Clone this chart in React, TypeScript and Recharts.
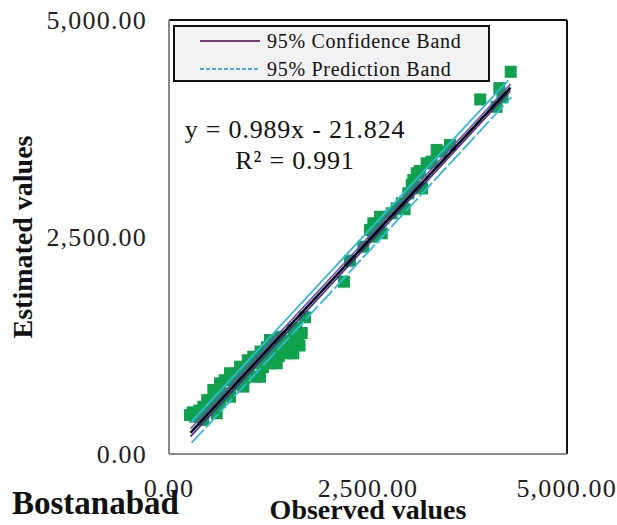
import React from "react";
import {
  ScatterChart,
  Scatter,
  XAxis,
  YAxis,
  ReferenceLine,
} from "recharts";

// observed vs estimated
const observed = [
  264, 330, 300, 431, 431, 520, 557, 599, 599, 640, 641, 700, 766, 766, 820,
  850, 892, 934, 950, 1000, 1059, 1059, 1101, 1143, 1120, 1180, 1200, 1269,
  1269, 1269, 1320, 1353, 1380, 1420, 1478, 1500, 1562, 1562, 1604, 1620,
  1667, 1640, 990, 700, 480, 380, 1230, 1300, 1400, 1450, 520, 900, 1150,
  1330, 1520, 1600, 1709, 2198, 2274, 2441, 2567, 2672, 2525, 2567, 2630,
  2651, 2797, 2860, 2923, 2960, 3006, 3050, 3070, 3112, 3150, 3180, 3237,
  3300, 3363, 3420, 3530, 3910, 4115, 4150, 4190, 4293,
];
const estimated = [
  449, 430, 480, 545, 392, 520, 737, 699, 469, 600, 814, 700, 660, 930, 800,
  930, 1006, 776, 880, 960, 1045, 1121, 891, 891, 1050, 1000, 1150, 1275,
  1313, 1045, 1200, 1045, 1130, 1250, 1160, 1300, 1429, 1160, 1313, 1380,
  1394, 1250, 1080, 850, 620, 500, 1230, 1100, 1350, 1230, 620, 850, 1180,
  1300, 1230, 1450, 1575, 1985, 2227, 2388, 2503, 2543, 2581, 2658, 2600,
  2734, 2773, 2830, 2888, 2820, 3003, 3100, 3157, 3234, 3260, 3060, 3349,
  3368, 3502, 3483, 3560, 4085, 4000, 4215, 4110, 4404,
];

// line ends [x, y]
const fitLine = [
  [270, 245],
  [4290, 4220],
];
const confUpper = [
  [270, 290],
  [4290, 4262],
];
const confLower = [
  [270, 200],
  [4290, 4185],
];
const predUpper = [
  [280, 370],
  [4260, 4305],
];
const predLower = [
  [285, 130],
  [4300, 4110],
];

const axisTicks = [0, 2500, 5000];
const legendItems = ["95% Confidence Band", "95% Prediction Band"];

const points = observed.map((x, i) => ({ x, y: estimated[i] }));
const toPts = (arr: number[][]) => arr.map(([x, y]) => ({ x, y }));

const serif = "'Liberation Serif', 'Times New Roman', serif";
const fmt = (v: number) =>
  v.toLocaleString("en-US", { minimumFractionDigits: 2, maximumFractionDigits: 2 });

const Square = (props: any) => {
  const { cx, cy } = props;
  return <rect x={cx - 6} y={cy - 6} width={12} height={12} fill="#10a14d" />;
};
const NoDot = () => <g />;

const legendStyles = [
  { color: "#7a3b74", dash: "" },
  { color: "#4aa8dc", dash: "4 2" },
];

export default function App() {
  return (
    <div style={{ position: "absolute", left: 0, top: 0, width: 617, height: 525, background: "#fff" }}>
      <ScatterChart width={617} height={525} margin={{ top: 20, right: 50, bottom: 0, left: 0 }}>
        <XAxis
          type="number"
          dataKey="x"
          domain={[0, 5000]}
          ticks={axisTicks}
          tickFormatter={fmt}
          height={71}
          tickSize={0}
          tickMargin={25}
          axisLine={{ stroke: "#8a8a8a", strokeWidth: 2 }}
          tick={{ fill: "#222", fontSize: 26, fontFamily: serif, letterSpacing: 1.2 }}
          label={{
            value: "Observed values",
            position: "insideBottom",
            offset: 6,
            style: { fill: "#111", fontSize: 28, fontWeight: 700, fontFamily: serif },
          }}
        />
        <YAxis
          type="number"
          dataKey="y"
          domain={[0, 5000]}
          ticks={axisTicks}
          tickFormatter={fmt}
          width={169}
          tickSize={0}
          tickMargin={22}
          axisLine={{ stroke: "#8a8a8a", strokeWidth: 2 }}
          tick={{ fill: "#222", fontSize: 26, fontFamily: serif, letterSpacing: 1.2 }}
          label={{
            value: "Estimated values",
            angle: -90,
            position: "insideLeft",
            offset: 22,
            style: { fill: "#111", fontSize: 28, fontWeight: 700, fontFamily: serif, textAnchor: "middle" },
          }}
        />
        <ReferenceLine y={5000} stroke="#111" strokeWidth={2} />
        <ReferenceLine x={5000} stroke="#111" strokeWidth={2} />
        <Scatter data={points} shape={<Square />} isAnimationActive={false} />
        <Scatter
          data={toPts(predUpper)}
          line={{ stroke: "#33b7e3", strokeWidth: 1.8 }}
          shape={<NoDot />}
          isAnimationActive={false}
        />
        <Scatter
          data={toPts(predLower)}
          line={{ stroke: "#33b7e3", strokeWidth: 1.8, strokeDasharray: "18 3" }}
          shape={<NoDot />}
          isAnimationActive={false}
        />
        <Scatter
          data={toPts(confUpper)}
          line={{ stroke: "#6a4cc8", strokeWidth: 1.6 }}
          shape={<NoDot />}
          isAnimationActive={false}
        />
        <Scatter
          data={toPts(confLower)}
          line={{ stroke: "#4a2a9a", strokeWidth: 1.6 }}
          shape={<NoDot />}
          isAnimationActive={false}
        />
        <Scatter
          data={toPts(fitLine)}
          line={{ stroke: "#000", strokeWidth: 2.5 }}
          shape={<NoDot />}
          isAnimationActive={false}
        />
      </ScatterChart>
      <div
        style={{
          position: "absolute",
          left: 173,
          top: 25,
          width: 313,
          height: 53,
          border: "2px solid #111",
          background: "#f2f2f2",
          fontFamily: serif,
          fontSize: 20,
          letterSpacing: 0.7,
          color: "#111",
        }}
      >
        {legendItems.map((label, i) => (
          <div key={label} style={{ height: 28, display: "flex", alignItems: "center" }}>
            <svg width={92} height={6} style={{ flex: "none" }}>
              <line
                x1={25}
                x2={85}
                y1={3}
                y2={3}
                stroke={legendStyles[i].color}
                strokeWidth={2}
                strokeDasharray={legendStyles[i].dash}
              />
            </svg>
            <span>{label}</span>
          </div>
        ))}
      </div>
      <div
        style={{
          position: "absolute",
          left: 175,
          top: 114,
          width: 240,
          textAlign: "center",
          fontFamily: serif,
          fontSize: 26,
          lineHeight: "31px",
          letterSpacing: 0.8,
          color: "#111",
        }}
      >
        <div>y = 0.989x - 21.824</div>
        <div>R² = 0.991</div>
      </div>
      <div
        style={{
          position: "absolute",
          left: 12,
          top: 485,
          fontFamily: serif,
          fontSize: 33,
          fontWeight: 700,
          color: "#111",
        }}
      >
        Bostanabad
      </div>
    </div>
  );
}
